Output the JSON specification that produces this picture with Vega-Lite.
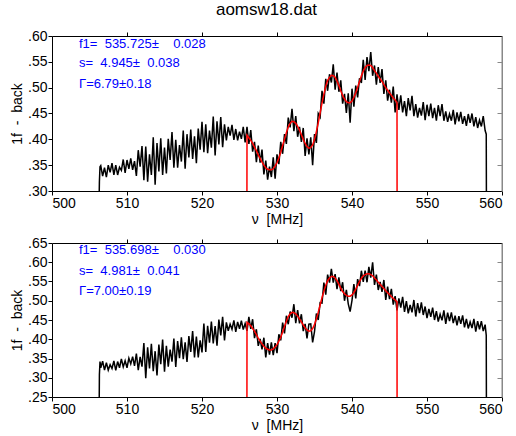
{
"$schema":"https://vega.github.io/schema/vega-lite/v6.json",
"background":"white",
"padding":{"left":10,"top":1,"right":0,"bottom":2},
"title":{"text":"aomsw18.dat","fontSize":17,"font":"Liberation Sans","fontWeight":"normal","anchor":"middle","dx":10,"offset":10,"color":"black"},
"config":{"view":{"stroke":null},
"axis":{"labelFont":"Liberation Sans","labelFontSize":14,"labelColor":"black","titleFont":"Liberation Sans","titleFontSize":14,"titleFontWeight":"normal","titleColor":"black","domainColor":"black","tickColor":"black","grid":false,"tickSize":4,"labelPadding":1},
"concat":{"spacing":10}},
"datasets":{
"d":[
{"x":506.3,"t":0.30,"b":0.25},{"x":506.32,"t":0.318,"b":0.308},{"x":506.4,"t":0.347,"b":0.342},
{"x":506.5,"t":0.349,"b":0.326},{"x":506.75,"t":0.329,"b":0.343},{"x":507,"t":0.345,"b":0.320},{"x":507.25,"t":0.327,"b":0.339},
{"x":507.5,"t":0.350,"b":0.320},{"x":507.75,"t":0.336,"b":0.334},{"x":508,"t":0.354,"b":0.324},{"x":508.25,"t":0.331,"b":0.344},
{"x":508.5,"t":0.350,"b":0.319},{"x":508.75,"t":0.331,"b":0.342},{"x":509,"t":0.346,"b":0.326},{"x":509.25,"t":0.340,"b":0.349},
{"x":509.5,"t":0.361,"b":0.328},{"x":509.75,"t":0.335,"b":0.344},{"x":510,"t":0.360,"b":0.326},{"x":510.25,"t":0.343,"b":0.351},
{"x":510.5,"t":0.363,"b":0.336},{"x":510.75,"t":0.341,"b":0.355},{"x":511,"t":0.358,"b":0.331},{"x":511.25,"t":0.329,"b":0.363},
{"x":511.5,"t":0.379,"b":0.320},{"x":511.75,"t":0.347,"b":0.354},{"x":512,"t":0.387,"b":0.329},{"x":512.25,"t":0.321,"b":0.390},
{"x":512.5,"t":0.386,"b":0.299},{"x":512.75,"t":0.318,"b":0.379},{"x":513,"t":0.371,"b":0.324},{"x":513.25,"t":0.331,"b":0.388},
{"x":513.5,"t":0.404,"b":0.317},{"x":513.75,"t":0.312,"b":0.369},{"x":514,"t":0.393,"b":0.306},{"x":514.25,"t":0.338,"b":0.386},
{"x":514.5,"t":0.402,"b":0.335},{"x":514.75,"t":0.331,"b":0.399},{"x":515,"t":0.384,"b":0.316},{"x":515.25,"t":0.334,"b":0.383},
{"x":515.5,"t":0.401,"b":0.329},{"x":515.75,"t":0.360,"b":0.373},{"x":516,"t":0.414,"b":0.342},{"x":516.25,"t":0.345,"b":0.402},
{"x":516.5,"t":0.399,"b":0.328},{"x":516.75,"t":0.345,"b":0.395},{"x":517,"t":0.389,"b":0.351},{"x":517.25,"t":0.357,"b":0.405},
{"x":517.5,"t":0.417,"b":0.348},{"x":517.75,"t":0.343,"b":0.392},{"x":518,"t":0.410,"b":0.341},{"x":518.25,"t":0.365,"b":0.408},
{"x":518.5,"t":0.419,"b":0.367},{"x":518.75,"t":0.362,"b":0.421},{"x":519,"t":0.406,"b":0.353},{"x":519.25,"t":0.354,"b":0.407},
{"x":519.5,"t":0.421,"b":0.353},{"x":519.75,"t":0.380,"b":0.397},{"x":520,"t":0.434,"b":0.366},{"x":520.25,"t":0.375,"b":0.441},
{"x":520.5,"t":0.429,"b":0.367},{"x":520.75,"t":0.373,"b":0.435},{"x":521,"t":0.417,"b":0.391},{"x":521.25,"t":0.384,"b":0.446},
{"x":521.5,"t":0.444,"b":0.389},{"x":521.75,"t":0.369,"b":0.434},{"x":522,"t":0.435,"b":0.383},{"x":522.25,"t":0.390,"b":0.451},
{"x":522.5,"t":0.443,"b":0.410},{"x":522.75,"t":0.385,"b":0.458},{"x":523,"t":0.429,"b":0.397},{"x":523.25,"t":0.398,"b":0.444},
{"x":523.5,"t":0.424,"b":0.422},{"x":523.75,"t":0.407,"b":0.439},{"x":524,"t":0.428,"b":0.426},{"x":524.25,"t":0.399,"b":0.449},
{"x":524.5,"t":0.420,"b":0.419},{"x":524.75,"t":0.398,"b":0.445},{"x":525,"t":0.415,"b":0.427},{"x":525.25,"t":0.401,"b":0.448},
{"x":525.5,"t":0.424,"b":0.425},{"x":525.75,"t":0.394,"b":0.441},{"x":526,"t":0.424,"b":0.422},{"x":526.25,"t":0.391,"b":0.458},
{"x":526.5,"t":0.418,"b":0.427},{"x":526.75,"t":0.376,"b":0.452},{"x":527,"t":0.395,"b":0.403},{"x":527.25,"t":0.356,"b":0.426},
{"x":527.5,"t":0.388,"b":0.383},{"x":527.75,"t":0.355,"b":0.401},{"x":528,"t":0.380,"b":0.374},{"x":528.25,"t":0.332,"b":0.404},
{"x":528.5,"t":0.359,"b":0.353},{"x":528.75,"t":0.322,"b":0.390},{"x":529,"t":0.347,"b":0.360},{"x":529.25,"t":0.327,"b":0.392},
{"x":529.5,"t":0.365,"b":0.359},{"x":529.75,"t":0.324,"b":0.390},{"x":530,"t":0.371,"b":0.364},{"x":530.25,"t":0.352,"b":0.413},
{"x":530.5,"t":0.395,"b":0.397},{"x":530.75,"t":0.372,"b":0.443},{"x":531,"t":0.410,"b":0.415},{"x":531.25,"t":0.391,"b":0.461},
{"x":531.5,"t":0.442,"b":0.439},{"x":531.75,"t":0.423,"b":0.472},{"x":532,"t":0.459,"b":0.456},{"x":532.25,"t":0.416,"b":0.491},
{"x":532.5,"t":0.445,"b":0.442},{"x":532.75,"t":0.405,"b":0.476},{"x":533,"t":0.424,"b":0.441},{"x":533.25,"t":0.395,"b":0.465},
{"x":533.5,"t":0.422,"b":0.421},{"x":533.75,"t":0.368,"b":0.440},{"x":534,"t":0.402,"b":0.402},{"x":534.25,"t":0.371,"b":0.439},
{"x":534.5,"t":0.404,"b":0.440},{"x":534.75,"t":0.350,"b":0.392},{"x":535,"t":0.410,"b":0.420},{"x":535.25,"t":0.393,"b":0.467},
{"x":535.5,"t":0.450,"b":0.450},{"x":535.75,"t":0.443,"b":0.495},{"x":536,"t":0.494,"b":0.494},{"x":536.25,"t":0.469,"b":0.547},
{"x":536.5,"t":0.517,"b":0.516},{"x":536.75,"t":0.494,"b":0.568},{"x":537,"t":0.526,"b":0.547},{"x":537.25,"t":0.510,"b":0.583},
{"x":537.5,"t":0.545,"b":0.547},{"x":537.75,"t":0.496,"b":0.569},{"x":538,"t":0.529,"b":0.530},{"x":538.25,"t":0.492,"b":0.561},
{"x":538.5,"t":0.514,"b":0.525},{"x":538.75,"t":0.469,"b":0.548},{"x":539,"t":0.488,"b":0.500},{"x":539.25,"t":0.451,"b":0.528},
{"x":539.5,"t":0.489,"b":0.492},{"x":539.75,"t":0.432,"b":0.472},{"x":540,"t":0.498,"b":0.501},{"x":540.25,"t":0.463,"b":0.543},
{"x":540.5,"t":0.504,"b":0.506},{"x":540.75,"t":0.481,"b":0.556},{"x":541,"t":0.518,"b":0.538},{"x":541.25,"t":0.509,"b":0.578},
{"x":541.5,"t":0.554,"b":0.549},{"x":541.75,"t":0.515,"b":0.578},{"x":542,"t":0.559,"b":0.548},{"x":542.25,"t":0.532,"b":0.588},
{"x":542.5,"t":0.569,"b":0.560},{"x":542.75,"t":0.523,"b":0.600},{"x":543,"t":0.543,"b":0.541},{"x":543.25,"t":0.506,"b":0.568},
{"x":543.5,"t":0.540,"b":0.528},{"x":543.75,"t":0.509,"b":0.549},{"x":544,"t":0.536,"b":0.523},{"x":544.25,"t":0.488,"b":0.554},
{"x":544.5,"t":0.514,"b":0.502},{"x":544.75,"t":0.475,"b":0.537},{"x":545,"t":0.496,"b":0.504},{"x":545.25,"t":0.471,"b":0.531},
{"x":545.5,"t":0.502,"b":0.490},{"x":545.75,"t":0.452,"b":0.512},{"x":546,"t":0.487,"b":0.475},{"x":546.25,"t":0.457,"b":0.506},
{"x":546.5,"t":0.485,"b":0.482},{"x":546.75,"t":0.452,"b":0.510},{"x":547,"t":0.474,"b":0.471},{"x":547.25,"t":0.445,"b":0.499},
{"x":547.5,"t":0.480,"b":0.467},{"x":547.75,"t":0.456,"b":0.489},{"x":548,"t":0.484,"b":0.470},{"x":548.25,"t":0.445,"b":0.502},
{"x":548.5,"t":0.468,"b":0.459},{"x":548.75,"t":0.442,"b":0.494},{"x":549,"t":0.461,"b":0.468},{"x":549.25,"t":0.446,"b":0.496},
{"x":549.5,"t":0.472,"b":0.463},{"x":549.75,"t":0.437,"b":0.485},{"x":550,"t":0.467,"b":0.455},{"x":550.25,"t":0.445,"b":0.479},
{"x":550.5,"t":0.469,"b":0.458},{"x":550.75,"t":0.441,"b":0.482},{"x":551,"t":0.461,"b":0.450},{"x":551.25,"t":0.436,"b":0.473},
{"x":551.5,"t":0.466,"b":0.446},{"x":551.75,"t":0.445,"b":0.465},{"x":552,"t":0.468,"b":0.449},{"x":552.25,"t":0.436,"b":0.475},
{"x":552.5,"t":0.454,"b":0.440},{"x":552.75,"t":0.434,"b":0.469},{"x":553,"t":0.449,"b":0.447},{"x":553.25,"t":0.436,"b":0.470},
{"x":553.5,"t":0.457,"b":0.442},{"x":553.75,"t":0.429,"b":0.461},{"x":554,"t":0.452,"b":0.436},{"x":554.25,"t":0.435,"b":0.460},
{"x":554.5,"t":0.453,"b":0.440},{"x":554.75,"t":0.430,"b":0.462},{"x":555,"t":0.445,"b":0.431},{"x":555.25,"t":0.426,"b":0.453},
{"x":555.5,"t":0.449,"b":0.428},{"x":555.75,"t":0.432,"b":0.445},{"x":556,"t":0.450,"b":0.429},{"x":556.25,"t":0.425,"b":0.453},
{"x":556.5,"t":0.443,"b":0.420},{"x":556.75,"t":0.422,"b":0.447},{"x":557,"t":0.437,"b":0.426},{"x":557.25,"t":0.425,"b":0.447},
{"x":557.5,"t":0.445,"b":0.421},{"x":557.75,"t":0.417,"b":0.438},{"x":557.9,"t":0.410,"b":0.410},{"x":557.92,"t":0.30,"b":0.25}
],
"f":[
{"x":525.99,"t":0.30,"b":0.25},
{"x":526,"t":0.408,"b":0.444},{"x":526.25,"t":0.403,"b":0.440},{"x":526.5,"t":0.398,"b":0.435},{"x":526.75,"t":0.392,"b":0.428},
{"x":527,"t":0.385,"b":0.421},{"x":527.25,"t":0.378,"b":0.412},{"x":527.5,"t":0.370,"b":0.403},{"x":527.75,"t":0.363,"b":0.395},
{"x":528,"t":0.356,"b":0.388},{"x":528.25,"t":0.350,"b":0.382},{"x":528.5,"t":0.345,"b":0.377},{"x":528.75,"t":0.342,"b":0.374},
{"x":529,"t":0.341,"b":0.372},{"x":529.25,"t":0.341,"b":0.372},{"x":529.5,"t":0.343,"b":0.375},{"x":529.75,"t":0.348,"b":0.380},
{"x":530,"t":0.355,"b":0.386},{"x":530.25,"t":0.364,"b":0.395},{"x":530.5,"t":0.375,"b":0.405},{"x":530.75,"t":0.388,"b":0.419},
{"x":531,"t":0.400,"b":0.433},{"x":531.25,"t":0.413,"b":0.447},{"x":531.5,"t":0.424,"b":0.459},{"x":531.75,"t":0.431,"b":0.466},
{"x":532,"t":0.435,"b":0.470},{"x":532.25,"t":0.434,"b":0.469},{"x":532.5,"t":0.431,"b":0.466},{"x":532.75,"t":0.425,"b":0.460},
{"x":533,"t":0.418,"b":0.453},{"x":533.25,"t":0.409,"b":0.445},{"x":533.5,"t":0.400,"b":0.437},{"x":533.75,"t":0.392,"b":0.430},
{"x":534,"t":0.386,"b":0.424},{"x":534.25,"t":0.383,"b":0.421},{"x":534.5,"t":0.384,"b":0.422},{"x":534.75,"t":0.389,"b":0.428},
{"x":535,"t":0.400,"b":0.438},{"x":535.25,"t":0.415,"b":0.453},{"x":535.5,"t":0.432,"b":0.470},{"x":535.75,"t":0.451,"b":0.489},
{"x":536,"t":0.470,"b":0.508},{"x":536.25,"t":0.487,"b":0.525},{"x":536.5,"t":0.503,"b":0.540},{"x":536.75,"t":0.514,"b":0.552},
{"x":537,"t":0.520,"b":0.559},{"x":537.25,"t":0.524,"b":0.563},{"x":537.5,"t":0.523,"b":0.563},{"x":537.75,"t":0.520,"b":0.559},
{"x":538,"t":0.513,"b":0.552},{"x":538.25,"t":0.504,"b":0.543},{"x":538.5,"t":0.494,"b":0.533},{"x":538.75,"t":0.485,"b":0.524},
{"x":539,"t":0.478,"b":0.518},{"x":539.25,"t":0.473,"b":0.514},{"x":539.5,"t":0.471,"b":0.512},{"x":539.75,"t":0.471,"b":0.512},
{"x":540,"t":0.474,"b":0.515},{"x":540.25,"t":0.481,"b":0.521},{"x":540.5,"t":0.490,"b":0.530},{"x":540.75,"t":0.501,"b":0.540},
{"x":541,"t":0.512,"b":0.550},{"x":541.25,"t":0.523,"b":0.558},{"x":541.5,"t":0.532,"b":0.565},{"x":541.75,"t":0.539,"b":0.568},
{"x":542,"t":0.543,"b":0.570},{"x":542.25,"t":0.544,"b":0.570},{"x":542.5,"t":0.543,"b":0.568},{"x":542.75,"t":0.539,"b":0.565},
{"x":543,"t":0.533,"b":0.559},{"x":543.25,"t":0.528,"b":0.554},{"x":543.5,"t":0.522,"b":0.548},{"x":543.75,"t":0.517,"b":0.543},
{"x":544,"t":0.512,"b":0.537},{"x":544.25,"t":0.506,"b":0.532},{"x":544.5,"t":0.500,"b":0.526},{"x":544.75,"t":0.495,"b":0.521},
{"x":545,"t":0.490,"b":0.516},{"x":545.25,"t":0.485,"b":0.511},{"x":545.5,"t":0.480,"b":0.506},{"x":545.75,"t":0.476,"b":0.502},
{"x":546,"t":0.471,"b":0.497},
{"x":546.01,"t":0.30,"b":0.25}
]},
"vconcat":[
{"width":450,"height":155,
"resolve":{"axis":{"x":"independent","y":"independent"}},
"layer":[
{"data":{"name":"d"},"mark":{"type":"line","color":"black","strokeWidth":1.5},
"encoding":{
"x":{"field":"x","type":"quantitative","scale":{"domain":[500,560],"nice":false,"zero":false},"axis":{"orient":"bottom","values":[500,510,520,530,540,550,560],"title":"ν\u00a0\u00a0[MHz]","titlePadding":2}},
"y":{"field":"t","type":"quantitative","scale":{"domain":[0.30,0.60],"nice":false,"zero":false},"axis":{"orient":"left","values":[0.30,0.35,0.40,0.45,0.50,0.55,0.60],"labelExpr":"replace(format(datum.value,'.2f'),'0.','.')","title":"1f\u00a0\u00a0-\u00a0\u00a0back","titlePadding":3}}}},
{"data":{"name":"f"},"mark":{"type":"line","color":"red","strokeWidth":1.5},
"encoding":{
"x":{"field":"x","type":"quantitative","scale":{"domain":[500,560],"nice":false,"zero":false},"axis":{"orient":"top","values":[510,520,530,540,550],"labels":false,"title":null}},
"y":{"field":"t","type":"quantitative","scale":{"domain":[0.30,0.60],"nice":false,"zero":false},"axis":{"orient":"right","values":[0.35,0.40,0.45,0.50,0.55],"labels":false,"title":null,"domainColor":"#888888","domainWidth":2,"tickColor":"#888888","tickSize":-5}}}},
{"data":{"values":[{}]},"mark":{"type":"text","align":"left","baseline":"middle","color":"blue","font":"Liberation Sans","fontSize":13},
"encoding":{"x":{"datum":503.6,"type":"quantitative","axis":null},"y":{"datum":0.584,"type":"quantitative","axis":null},"text":{"value":"f1=\u00a0\u00a0535.725±\u00a0\u00a0\u00a0\u00a00.028"}}},
{"data":{"values":[{}]},"mark":{"type":"text","align":"left","baseline":"middle","color":"blue","font":"Liberation Sans","fontSize":13},
"encoding":{"x":{"datum":503.6,"type":"quantitative","axis":null},"y":{"datum":0.547,"type":"quantitative","axis":null},"text":{"value":"s=\u00a0\u00a04.945±\u00a0\u00a00.038"}}},
{"data":{"values":[{}]},"mark":{"type":"text","align":"left","baseline":"middle","color":"blue","font":"Liberation Sans","fontSize":13},
"encoding":{"x":{"datum":503.6,"type":"quantitative","axis":null},"y":{"datum":0.508,"type":"quantitative","axis":null},"text":{"value":"Γ=6.79±0.18"}}}
]},
{"width":450,"height":154,
"resolve":{"axis":{"x":"independent","y":"independent"}},
"layer":[
{"data":{"name":"d"},"mark":{"type":"line","color":"black","strokeWidth":1.5},
"encoding":{
"x":{"field":"x","type":"quantitative","scale":{"domain":[500,560],"nice":false,"zero":false},"axis":{"orient":"bottom","values":[500,510,520,530,540,550,560],"title":"ν\u00a0\u00a0[MHz]","titlePadding":2}},
"y":{"field":"b","type":"quantitative","scale":{"domain":[0.25,0.65],"nice":false,"zero":false},"axis":{"orient":"left","values":[0.25,0.30,0.35,0.40,0.45,0.50,0.55,0.60,0.65],"labelExpr":"replace(format(datum.value,'.2f'),'0.','.')","title":"1f\u00a0\u00a0-\u00a0\u00a0back","titlePadding":3}}}},
{"data":{"name":"f"},"mark":{"type":"line","color":"red","strokeWidth":1.5},
"encoding":{
"x":{"field":"x","type":"quantitative","scale":{"domain":[500,560],"nice":false,"zero":false},"axis":{"orient":"top","values":[510,520,530,540,550],"labels":false,"title":null}},
"y":{"field":"b","type":"quantitative","scale":{"domain":[0.25,0.65],"nice":false,"zero":false},"axis":{"orient":"right","values":[0.30,0.35,0.40,0.45,0.50,0.55,0.60],"labels":false,"title":null,"domainColor":"#888888","domainWidth":2,"tickColor":"#888888","tickSize":-5}}}},
{"data":{"values":[{}]},"mark":{"type":"text","align":"left","baseline":"middle","color":"blue","font":"Liberation Sans","fontSize":13},
"encoding":{"x":{"datum":503.6,"type":"quantitative","axis":null},"y":{"datum":0.633,"type":"quantitative","axis":null},"text":{"value":"f1=\u00a0\u00a0535.698±\u00a0\u00a0\u00a0\u00a00.030"}}},
{"data":{"values":[{}]},"mark":{"type":"text","align":"left","baseline":"middle","color":"blue","font":"Liberation Sans","fontSize":13},
"encoding":{"x":{"datum":503.6,"type":"quantitative","axis":null},"y":{"datum":0.578,"type":"quantitative","axis":null},"text":{"value":"s=\u00a0\u00a04.981±\u00a0\u00a00.041"}}},
{"data":{"values":[{}]},"mark":{"type":"text","align":"left","baseline":"middle","color":"blue","font":"Liberation Sans","fontSize":13},
"encoding":{"x":{"datum":503.6,"type":"quantitative","axis":null},"y":{"datum":0.525,"type":"quantitative","axis":null},"text":{"value":"Γ=7.00±0.19"}}}
]}
]
}
